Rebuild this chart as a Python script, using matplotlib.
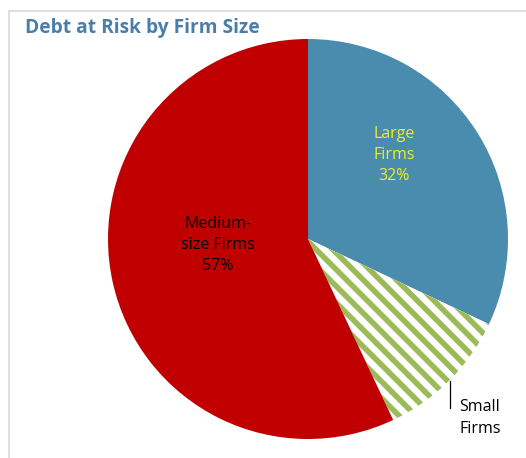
import matplotlib
matplotlib.use('Agg')
import matplotlib.pyplot as plt
from matplotlib.patches import Rectangle

plt.rcParams['font.family'] = ['Open Sans', 'DejaVu Sans']
plt.rcParams['hatch.linewidth'] = 4.0

segments = ['Large\nFirms', 'Small\nFirms', 'Medium-\nsize Firms']
shares = [32, 11, 57]
colors = ['#4A8CAE', '#FFFFFF', '#C00000']

fig = plt.figure(figsize=(5.26, 4.58), dpi=100)
fig.patch.set_facecolor('white')

# chart frame
fig.patches.append(Rectangle((9.5 / 526, -0.1), 1.2, 1 - 10.5 / 458 + 0.1,
                             transform=fig.transFigure, fill=False,
                             edgecolor='#D9D9D9', linewidth=1.2))

fig.text(25 / 526, 1 - 28 / 458, 'Debt at Risk by Firm Size', fontsize=13.8,
         fontweight='bold', color='#4A7EAA', va='center', ha='left')

ax = fig.add_axes([108 / 526, 19 / 458, 400 / 526, 400 / 458])
wedges, _ = ax.pie(shares, colors=colors, startangle=90, counterclock=False,
                   radius=1.0)
for w in wedges:
    w.set_linewidth(0)
wedges[1].set_hatch('\\\\')
wedges[1].set_edgecolor('#9BBB59')
ax.set_xlim(-1, 1)
ax.set_ylim(-1, 1)
ax.set_aspect('auto')
ax.axis('off')

label_pos = [(0.43, 0.42), (0.86, -0.895), (-0.45, -0.03)]
label_col = ['#EEEE22', 'black', 'black']
for name, val, (x, y), c in zip(segments, shares, label_pos, label_col):
    txt = name if name.startswith('Small') else f'{name}\n{val}%'
    ax.text(x, y, txt, ha='center', va='center', fontsize=11.5, color=c,
            linespacing=1.45)

# leader line for the small slice
ax.plot([0.71, 0.71], [-0.71, -0.845], color='black', linewidth=0.9)

fig.savefig('out.png', dpi=100)
